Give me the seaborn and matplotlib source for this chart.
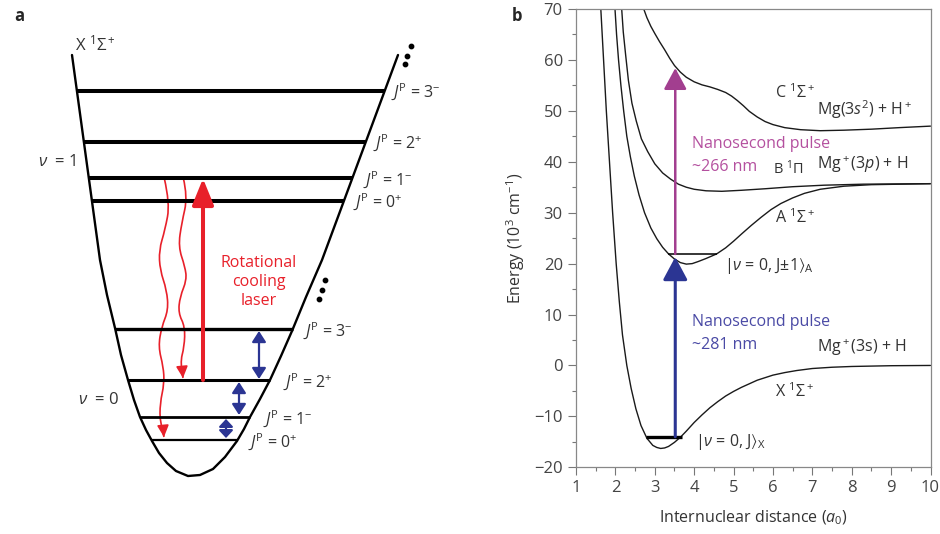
import numpy as np
import matplotlib
matplotlib.use("Agg")
import matplotlib.pyplot as plt
from matplotlib.path import Path
from matplotlib.patches import PathPatch
from matplotlib.ticker import MultipleLocator
import seaborn as sns

sns.set_style("ticks")
plt.rcParams["font.family"] = ["Open Sans", "DejaVu Sans"]
plt.rcParams["mathtext.fontset"] = "custom"
plt.rcParams["mathtext.rm"] = "Open Sans"
plt.rcParams["mathtext.it"] = "Open Sans:italic"
plt.rcParams["mathtext.bf"] = "Open Sans:bold"
plt.rcParams["mathtext.sf"] = "Open Sans"
plt.rcParams["mathtext.fallback"] = "stixsans"

# ---------------- panel b: potential energy curves (r in a0, E in 10^3 cm^-1)
x_r = [1.63, 1.70, 1.77, 1.85, 1.93, 2.02, 2.10, 2.18, 2.29, 2.40, 2.52, 2.65, 2.80, 2.95,
       3.05, 3.15, 3.25, 3.35, 3.5, 3.65, 3.8, 4.0, 4.2, 4.4, 4.6, 4.8, 5.0, 5.2, 5.4, 5.6,
       5.8, 6.0, 6.3, 6.6, 7.0, 7.5, 8.0, 9.0, 10.0]
x_e = [70, 60, 50, 40, 30, 20, 12.5, 6, 0, -4.5, -8.5, -11.8, -14.3, -15.7,
       -16.1, -16.3, -16.2, -15.9, -15.1, -14.1, -12.9, -11.2, -9.7, -8.3, -7.1, -6.0, -5.1,
       -4.3, -3.6, -2.9, -2.4, -1.9, -1.4, -1.0, -0.6, -0.35, -0.2, -0.05, 0]

a_r = [1.99, 2.03, 2.08, 2.14, 2.21, 2.29, 2.38, 2.48, 2.6, 2.74, 2.9, 3.05, 3.2, 3.35,
       3.5, 3.65, 3.8, 3.95, 4.1, 4.3, 4.57, 4.8, 5.0, 5.2, 5.45, 5.7, 5.95, 6.2, 6.5,
       6.8, 7.2, 7.8, 8.5, 10.0]
a_e = [70, 65, 60, 55, 50, 45, 41, 37.2, 33.5, 30.0, 27.0, 24.9, 23.2, 21.9,
       20.9, 20.2, 19.9, 20.0, 20.4, 21.0, 21.9, 23.1, 24.4, 25.8, 27.5, 29.1, 30.6, 31.8, 32.9,
       33.8, 34.6, 35.2, 35.5, 35.7]

b_r = [2.16, 2.20, 2.26, 2.33, 2.42, 2.53, 2.66, 2.82, 3.0, 3.2, 3.4, 3.6, 3.8, 4.0, 4.3,
       4.7, 5.2, 5.8, 6.5, 7.3, 8.3, 10.0]
b_e = [70, 65.5, 61, 56, 51.5, 48, 44.5, 42.0, 39.6, 37.8, 36.6, 35.6, 35.0, 34.6, 34.3,
       34.2, 34.4, 34.7, 35.1, 35.4, 35.6, 35.7]

c_r = [2.72, 2.80, 2.90, 3.0, 3.12, 3.25, 3.38, 3.5, 3.65, 3.8, 4.0, 4.2, 4.4, 4.6, 4.8,
       4.95, 5.1, 5.25, 5.4, 5.6, 5.8, 6.0, 6.3, 6.7, 7.2, 7.8, 8.5, 9.2, 10.0]
c_e = [70, 68.3, 66.6, 65.2, 63.6, 62.0, 60.3, 58.9, 57.6, 56.6, 55.7, 55.1, 54.7, 54.2, 53.6,
       52.9, 52.0, 51.0, 49.9, 48.8, 47.9, 47.3, 46.7, 46.3, 46.1, 46.2, 46.4, 46.7, 47.0]

# vibrational levels (r_left, r_right, E)
lev_x = (2.78, 3.68, -14.0)
lev_a = (3.33, 4.57, 21.9)
# excitation pulses (r, E_start, E_end)
pulse_281 = (3.52, -14.0, 21.3)
pulse_266 = (3.52, 21.9, 58.4)

# ---------------- panel a: schematic (pixel-like units)
wall_x = [72, 100, 107, 115, 121, 128, 134, 140, 146, 152, 159, 167, 176, 188, 200, 213,
          225, 237, 244, 250, 260, 270, 281, 292, 306, 322, 398]
wall_y = [55, 260, 295, 328, 355, 380, 400, 417, 430, 441, 453, 463, 471, 476, 475, 469,
          457, 441, 429, 417, 399, 380, 356, 331, 297, 260, 55]
v1_levels = [90.7, 141.7, 178.3, 201]
v0_levels = [329.3, 380, 416.7, 440]
v1_widths = [2.9, 2.9, 2.9, 2.9]
v0_widths = [2.4, 2.2, 2.0, 1.6]
jp_labels = [r"$J^{\mathrm{P}}$ = 3$^{-}$", r"$J^{\mathrm{P}}$ = 2$^{+}$",
             r"$J^{\mathrm{P}}$ = 1$^{-}$", r"$J^{\mathrm{P}}$ = 0$^{+}$"]
v1_label_x = [391, 373, 363, 353]
v0_label_x = [303, 283, 263, 248]
wave1 = [(164.3, 178.3), (170, 203.3), (165, 230), (159, 250), (160, 270), (166.7, 290),
         (168.3, 310), (161.7, 326.7), (158.3, 346.7), (163.3, 366.7), (164.3, 383.3),
         (160, 403.3), (160, 423.3), (164, 437)]
wave2 = [(183.3, 178), (187.7, 196.7), (181.7, 223), (178.3, 246.7), (185, 266.7),
         (186.7, 280), (180, 296.7), (178.3, 313), (185, 326.7), (184.3, 346.7),
         (180, 363), (183, 378)]
blue_pairs = [(259, 331, 379), (239, 382, 415), (226, 419, 438)]
dots_top = ([410.7, 406.5, 405], [45.5, 55.5, 64])
dots_mid = ([325, 321.5, 318.5], [280, 289.5, 298.5])

RED = "#e8202a"
BLUE = "#2b3593"
MAG = "#a23e8f"
TXT = "#333333"

fig = plt.figure(figsize=(9.4, 5.34), dpi=100)

# ================= panel a
axa = fig.add_axes([0, 0, 0.5, 1])
axa.set_xlim(0, 470)
axa.set_ylim(534, 0)
axa.axis("off")

sns.lineplot(x=wall_x, y=wall_y, sort=False, color="black", lw=1.7, ax=axa)

imin = int(np.argmax(wall_y))
left_x, left_y = wall_x[:imin + 1], wall_y[:imin + 1]
right_x, right_y = wall_x[imin:][::-1], wall_y[imin:][::-1]
for levels, widths in [(v1_levels, v1_widths), (v0_levels, v0_widths)]:
    for yl, w in zip(levels, widths):
        xl = np.interp(yl, left_y, left_x)
        xr = np.interp(yl, right_y, right_x)
        axa.plot([xl, xr], [yl, yl], color="black", lw=w, solid_capstyle="butt")

for yl, xl, lab in zip(v1_levels, v1_label_x, jp_labels):
    axa.text(xl, yl + 1, lab, fontsize=11.5, color=TXT, ha="left", va="center")
for yl, xl, lab in zip(v0_levels, v0_label_x, jp_labels):
    axa.text(xl, yl + 1.5, lab, fontsize=11.5, color=TXT, ha="left", va="center")

axa.text(75, 44, r"X $^1\Sigma^+$", fontsize=12, color=TXT, ha="left", va="center")
axa.text(38, 162, r"$\nu$  = 1", fontsize=12, color=TXT, ha="left", va="center")
axa.text(78, 400, r"$\nu$  = 0", fontsize=12, color=TXT, ha="left", va="center")
axa.scatter(*dots_top, s=10, color="black")
axa.scatter(*dots_mid, s=10, color="black")


def wavy(ax, pts, color):
    verts = [pts[0]]
    codes = [Path.MOVETO]
    for i in range(1, len(pts) - 2):
        mid = ((pts[i][0] + pts[i + 1][0]) / 2, (pts[i][1] + pts[i + 1][1]) / 2)
        verts += [pts[i], mid]
        codes += [Path.CURVE3, Path.CURVE3]
    verts += [pts[-2], pts[-1]]
    codes += [Path.CURVE3, Path.CURVE3]
    ax.add_patch(PathPatch(Path(verts, codes), fill=False, edgecolor=color, lw=1.2))
    tip = pts[-1]
    ax.annotate("", xy=tip, xytext=(tip[0] - 0.8, tip[1] - 9),
                arrowprops=dict(arrowstyle="-|>,head_length=0.7,head_width=0.35",
                                color=color, lw=1.2, shrinkA=0, shrinkB=0))


wavy(axa, wave1, RED)
wavy(axa, wave2, RED)

axa.annotate("", xy=(203, 178.5), xytext=(203, 380),
             arrowprops=dict(arrowstyle="-|>,head_length=1.6,head_width=0.65",
                             color=RED, lw=2.9, shrinkA=0, shrinkB=0))
axa.text(259, 282, "Rotational\ncooling\nlaser", fontsize=11.5, color=RED,
         ha="center", va="center", linespacing=1.25)

for bx, y0, y1 in blue_pairs:
    hl = 0.65 if (y1 - y0) > 25 else 0.45
    axa.annotate("", xy=(bx, y1), xytext=(bx, y0),
                 arrowprops=dict(arrowstyle=f"<|-|>,head_length={hl},head_width=0.42",
                                 color=BLUE, lw=1.6, shrinkA=0, shrinkB=0))

# ================= panel b
axb = fig.add_axes([576 / 940, 1 - 467.3 / 534, (930.5 - 576) / 940, (467.3 - 9) / 534])
for r, e in [(x_r, x_e), (a_r, a_e), (b_r, b_e), (c_r, c_e)]:
    sns.lineplot(x=r, y=e, color="#1a1a1a", lw=1.0, ax=axb)

axb.plot(lev_x[:2], [lev_x[2]] * 2, color="black", lw=2.4, solid_capstyle="butt")
axb.plot(lev_a[:2], [lev_a[2]] * 2, color="black", lw=1.1, solid_capstyle="butt")

axb.annotate("", xy=(pulse_281[0], pulse_281[2]), xytext=(pulse_281[0], pulse_281[1]),
             arrowprops=dict(arrowstyle="-|>,head_length=1.4,head_width=0.75",
                             color=BLUE, lw=2.2, shrinkA=0, shrinkB=0))
axb.annotate("", xy=(pulse_266[0], pulse_266[2]), xytext=(pulse_266[0], pulse_266[1]),
             arrowprops=dict(arrowstyle="-|>,head_length=1.3,head_width=0.7",
                             color=MAG, lw=1.8, shrinkA=0, shrinkB=0))

tk = dict(fontsize=11.5, color=TXT, ha="left", va="center")
axb.text(6.05, 53.6, r"C $^1\Sigma^+$", **tk)
axb.text(7.12, 50.2, r"Mg(3$s^2$) + H$^+$", **tk)
axb.text(6.0, 38.7, r"B $^1\Pi$", fontsize=10.5, color=TXT, ha="left", va="center")
axb.text(7.12, 39.4, r"Mg$^+$(3$p$) + H", **tk)
axb.text(6.05, 29.0, r"A $^1\Sigma^+$", **tk)
axb.text(4.76, 19.6, r"|$\nu$ = 0, J$\pm$1$\rangle_{\mathrm{A}}$", **tk)
axb.text(7.11, 3.5, r"Mg$^+$(3s) + H", **tk)
axb.text(6.05, -5.2, r"X $^1\Sigma^+$", **tk)
axb.text(4.02, -15.0, r"|$\nu$ = 0, J$\rangle_{\mathrm{X}}$", **tk)
axb.text(3.94, 43.5, "Nanosecond pulse", fontsize=11.5, color="#b4509f", ha="left", va="center")
axb.text(3.94, 39.0, "~266 nm", fontsize=11.5, color="#b4509f", ha="left", va="center")
axb.text(3.94, 8.6, "Nanosecond pulse", fontsize=11.5, color="#4a4aa5", ha="left", va="center")
axb.text(3.94, 4.0, "~281 nm", fontsize=11.5, color="#4a4aa5", ha="left", va="center")

axb.set_xlim(1, 10)
axb.set_ylim(-20, 70)
axb.set_xticks(range(1, 11))
axb.set_yticks(range(-20, 71, 10))
axb.xaxis.set_minor_locator(MultipleLocator(0.5))
axb.yaxis.set_minor_locator(MultipleLocator(5))
axb.tick_params(which="major", direction="out", length=5.5, width=0.8, color="#777777",
                labelsize=12, labelcolor="#444444", pad=4)
axb.tick_params(which="minor", direction="out", length=3, width=0.8, color="#777777")
for s in axb.spines.values():
    s.set_color("#888888")
    s.set_linewidth(0.9)
axb.set_xlabel(r"Internuclear distance ($a_0$)", fontsize=11.5, color=TXT, labelpad=9)
axb.set_ylabel(r"Energy (10$^3$ cm$^{-1}$)", fontsize=11.5, color=TXT, labelpad=5)

fig.text(14 / 940, 1 - 16 / 534, "a", fontsize=12, fontweight="bold", va="center")
fig.text(512 / 940, 1 - 16 / 534, "b", fontsize=12, fontweight="bold", va="center")

fig.savefig("out.png", dpi=100)
